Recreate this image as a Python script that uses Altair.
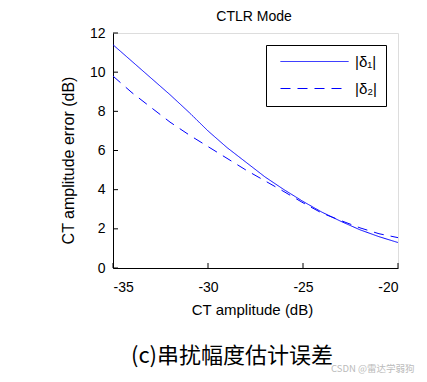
import altair as alt
import pandas as pd

x_vals = [-35, -34, -33, -32, -31, -30, -29, -28, -27, -26, -25, -24, -23, -22, -21, -20]
delta1 = [11.4, 10.55, 9.7, 8.85, 7.95, 7.0, 6.15, 5.4, 4.65, 4.0, 3.4, 2.85, 2.38, 1.95, 1.6, 1.3]
delta2 = [9.8, 8.95, 8.2, 7.45, 6.8, 6.2, 5.6, 5.0, 4.45, 3.9, 3.33, 2.8, 2.42, 2.05, 1.75, 1.55]
series_names = ["|δ₁|", "|δ₂|"]
x_ticks = [-35, -30, -25, -20]
y_ticks = [0, 2, 4, 6, 8, 10, 12]
title_text = "CTLR Mode"
caption_text = "(c)串扰幅度估计误差"
watermark_text = "CSDN @雷达学弱狗"

rows = []
for i, xv in enumerate(x_vals):
    rows.append({"x": xv, "y": delta1[i], "series": series_names[0]})
    rows.append({"x": xv, "y": delta2[i], "series": series_names[1]})
df = pd.DataFrame(rows)

FONT = "Liberation Sans"
BLUE = "#0000ff"

x_enc = alt.X(
    "x:Q",
    scale=alt.Scale(domain=[-35, -20], nice=False, zero=False),
    axis=alt.Axis(values=x_ticks, ticks=False, tickSize=0, grid=False, labelPadding=12,
                  labelExpr="'' + datum.value",
                  labelFontSize=14, labelFont=FONT, labelColor="black",
                  domainColor="black", title="CT amplitude (dB)", titleFont=FONT,
                  titleFontSize=15, titleFontWeight="normal", titleColor="black",
                  titleX=139, titleY=41, titleBaseline="middle"),
)
y_enc = alt.Y(
    "y:Q",
    scale=alt.Scale(domain=[0, 12], nice=False),
    axis=alt.Axis(values=y_ticks, ticks=False, tickSize=0, grid=False, labelPadding=8,
                  labelFontSize=14, labelFont=FONT, labelColor="black",
                  domainColor="black", title="CT amplitude error (dB)", titleFont=FONT,
                  titleFontSize=16, titleFontWeight="normal", titleColor="black",
                  titleX=-45, titleY=127, titleBaseline="middle", titleAngle=-90),
)

lines = alt.Chart(df).mark_line(strokeWidth=1, color=BLUE).encode(
    x=x_enc,
    y=y_enc,
    strokeDash=alt.StrokeDash(
        "series:N",
        scale=alt.Scale(domain=series_names, range=[[1, 0], [10, 7]]),
        legend=alt.Legend(orient="none", legendX=153, legendY=12, title=None,
                          symbolType="M-6.8,0H6.8", symbolSize=100, symbolStrokeWidth=1,
                          symbolStrokeColor=BLUE, labelFontSize=15, labelFont=FONT,
                          labelColor="black", labelOffset=33, padding=9, symbolOffset=32,
                          rowPadding=11, strokeColor="black", fillColor="white",
                          cornerRadius=0),
    ),
)

xt = alt.Chart(pd.DataFrame({"x": x_ticks})).mark_rule(color="black", strokeWidth=1).encode(
    x=x_enc, y=alt.value(235), y2=alt.value(230)
)
yt = alt.Chart(pd.DataFrame({"y": y_ticks})).mark_rule(color="black", strokeWidth=1).encode(
    y=y_enc, x=alt.value(0), x2=alt.value(5)
)

title = alt.Chart(pd.DataFrame({"t": [title_text]})).mark_text(
    font=FONT, fontSize=14, color="black", baseline="middle", align="center"
).encode(text="t:N", x=alt.value(141), y=alt.value(-16))

caption = alt.Chart(pd.DataFrame({"t": [caption_text]})).mark_text(
    font="Noto Sans CJK SC", fontSize=22, color="black", baseline="middle", align="center"
).encode(text="t:N", x=alt.value(119), y=alt.value(323))

wm = alt.Chart(pd.DataFrame({"t": [watermark_text]})).mark_text(
    font="Noto Sans CJK SC", fontSize=9.5, color="#bbbbbb", baseline="middle", align="left"
).encode(text="t:N", x=alt.value(218), y=alt.value(336))

chart = alt.layer(lines, xt, yt, title, caption, wm).properties(
    width=285, height=235,
    autosize=alt.AutoSizeParams(type="none"),
    padding={"left": 105, "top": 25, "right": 21, "bottom": 106},
).configure_view(stroke=None).configure(background="white")

chart.save("out.html", embed_options={"renderer": "svg", "actions": False})
